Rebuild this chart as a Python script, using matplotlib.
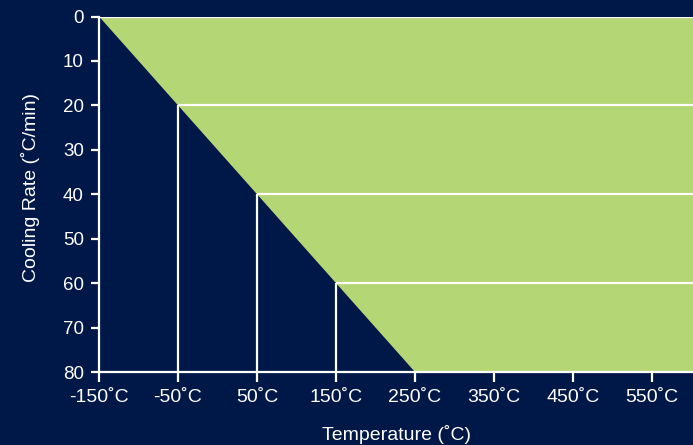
import matplotlib
matplotlib.use("Agg")
import matplotlib.pyplot as plt
import numpy as np

plt.rcParams['font.family'] = ['Liberation Sans', 'DejaVu Sans']

navy = '#001848'
green = '#b5d674'

# diagonal boundary: temperature vs cooling rate
diag_temp = np.array([-150, -50, 50, 150, 250])
diag_rate = np.array([0, 20, 40, 60, 80])

# step lines (rate, start temperature)
step_rate = [0, 20, 40, 60]
step_temp = [-150, -50, 50, 150]

x_ticks = [-150, -50, 50, 150, 250, 350, 450, 550]
x_labels = ['-150˚C', '-50˚C', '50˚C', '150˚C', '250˚C', '350˚C', '450˚C', '550˚C']
y_ticks = [0, 10, 20, 30, 40, 50, 60, 70, 80]
x_max = 602

fig = plt.figure(figsize=(6.93, 4.45), dpi=100, facecolor=navy)
ax = fig.add_axes([99/693, 1 - 372/445, 1 - 99/693, (372 - 16.5)/445])
ax.set_facecolor(navy)

ax.fill_betweenx(diag_rate, diag_temp, x_max, color=green, lw=0, zorder=1)

for r, t in zip(step_rate, step_temp):
    ax.plot([t, x_max], [r, r], color='white', lw=1.6, zorder=3, solid_capstyle='butt')
    if r > 0:
        ax.plot([t, t], [r, 80], color='white', lw=1.6, zorder=3, solid_capstyle='butt')

ax.set_xlim(-150, x_max)
ax.set_ylim(80, 0)
for s in ['top', 'right']:
    ax.spines[s].set_visible(False)
for s in ['left', 'bottom']:
    ax.spines[s].set_color('white')
    ax.spines[s].set_linewidth(1.6)
    ax.spines[s].set_zorder(4)

ax.set_xticks(x_ticks)
ax.set_xticklabels(x_labels)
ax.set_yticks(y_ticks)
ax.tick_params(colors='white', width=1.6)
ax.tick_params(axis='x', labelsize=14, length=7.5, pad=5)
ax.tick_params(axis='y', labelsize=13.5, length=6, pad=5)

fig.text(396/693, 1 - 439.5/445, 'Temperature (˚C)', color='white', fontsize=14,
         ha='center', va='baseline')
fig.text(31/693, 1 - 187.5/445, 'Cooling Rate (˚C/min)', color='white', fontsize=14,
         ha='center', va='center', rotation=90)

fig.savefig('out.png', dpi=100, facecolor=navy)
